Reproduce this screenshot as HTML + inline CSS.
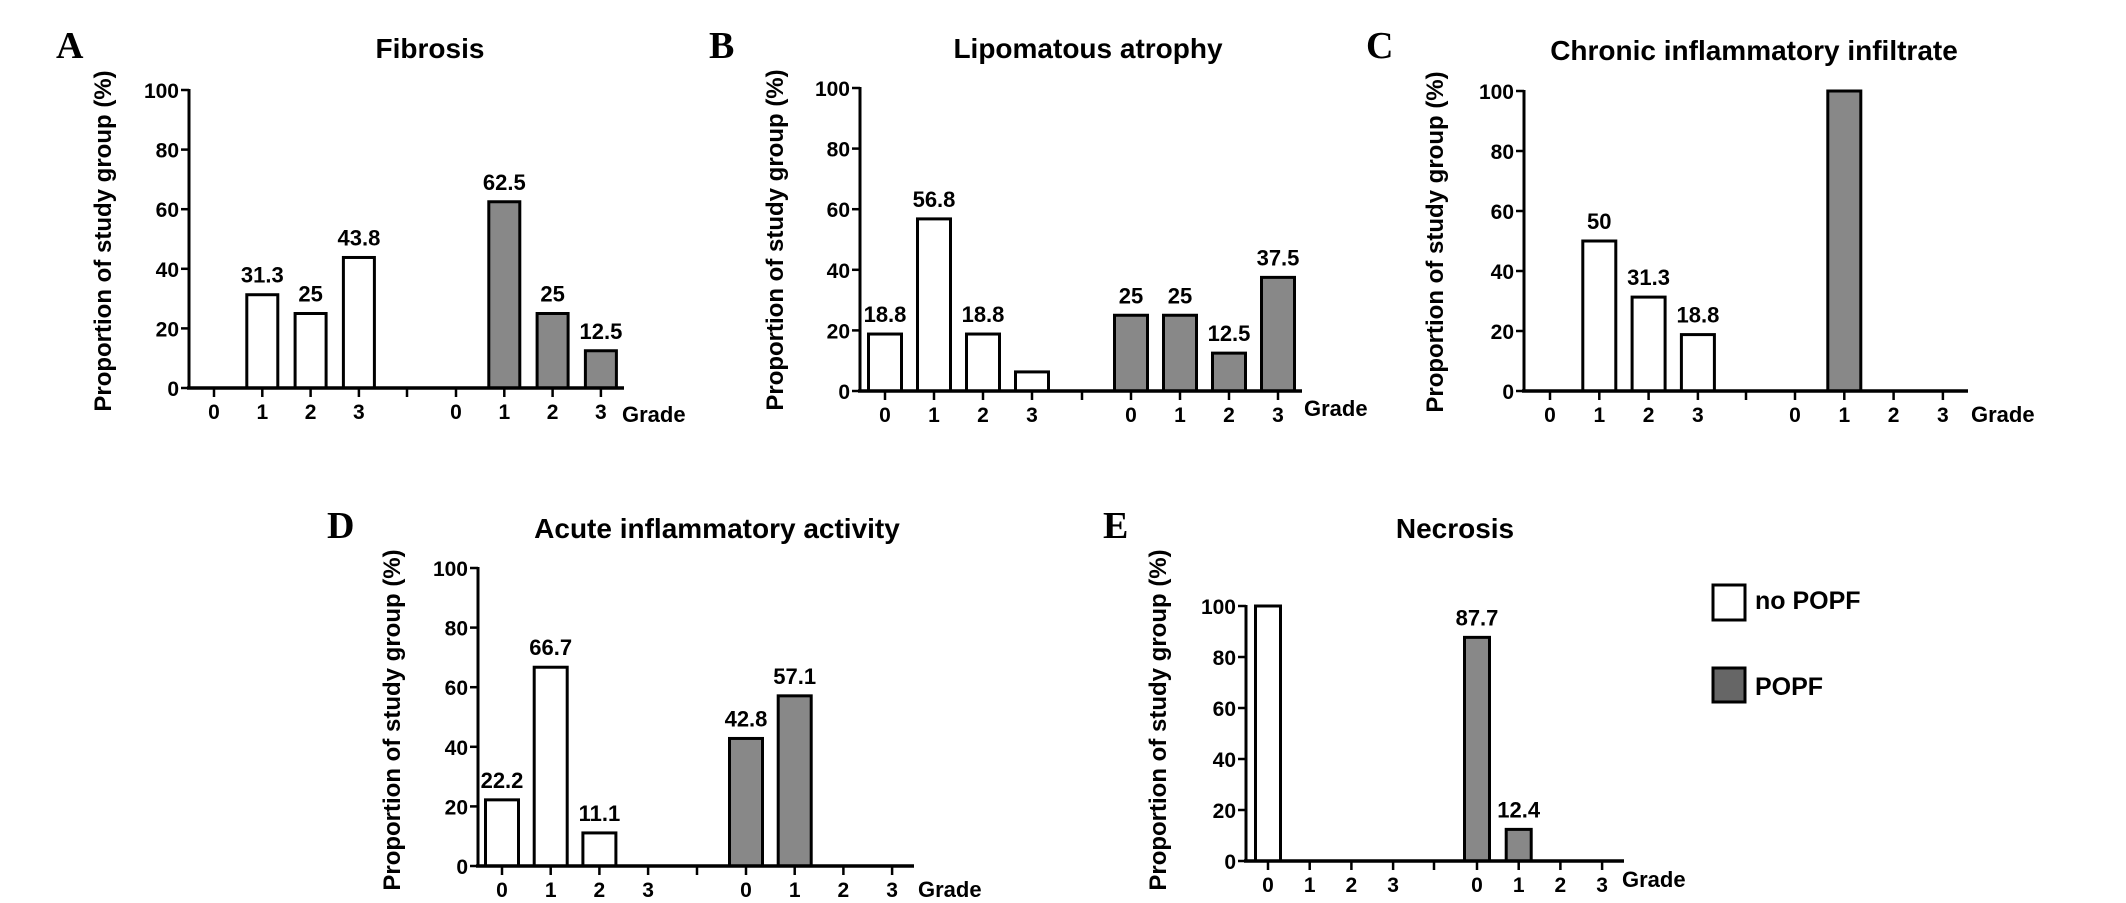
<!DOCTYPE html>
<html><head><meta charset="utf-8"><style>
html,body{margin:0;padding:0;background:#fff;}
svg{display:block;font-family:"Liberation Sans",Arial,sans-serif;}
</style></head><body>
<svg id="fig" width="2126" height="903" viewBox="0 0 2126 903" xmlns="http://www.w3.org/2000/svg"></svg>
<script>
const grades = ["0","1","2","3"];
const yTicks = [0,20,40,60,80,100];
const titles = ["Fibrosis","Lipomatous atrophy","Chronic inflammatory infiltrate","Acute inflammatory activity","Necrosis"];
const letters = ["A","B","C","D","E"];
const noPopfA = [0,31.3,25,43.8];
const popfA = [0,62.5,25,12.5];
const noPopfB = [18.8,56.8,18.8,6.3];
const popfB = [25,25,12.5,37.5];
const noPopfC = [0,50,31.3,18.8];
const popfC = [0,100,0,0];
const noPopfD = [22.2,66.7,11.1,0];
const popfD = [42.8,57.1,0,0];
const noPopfE = [100,0,0,0];
const popfE = [87.7,12.4,0,0];
const labelsNoA = [null,"31.3","25","43.8"], labelsPA = [null,"62.5","25","12.5"];
const labelsNoB = ["18.8","56.8","18.8",null], labelsPB = ["25","25","12.5","37.5"];
const labelsNoC = [null,"50","31.3","18.8"], labelsPC = [null,null,null,null];
const labelsNoD = ["22.2","66.7","11.1",null], labelsPD = ["42.8","57.1",null,null];
const labelsNoE = [null,null,null,null], labelsPE = ["87.7","12.4",null,null];

const NS="http://www.w3.org/2000/svg";
const svg=document.getElementById('fig');
function mk(tag,attrs,parent,text){const e=document.createElementNS(NS,tag);for(const k in attrs)e.setAttribute(k,attrs[k]);if(text!==undefined)e.textContent=text;(parent||svg).appendChild(e);return e;}

const layouts=[
 {ax:189,y100:90,y0:388,x0:214,step:48.3,sep:407,x0b:456,end:624,bw:31,title:[430,58],letter:[56,58],yl:[103,241],grade:[622,414]},
 {ax:860,y100:88,y0:391,x0:885,step:49,sep:1082,x0b:1131,end:1302,bw:33,title:[1088,58],letter:[709,58],yl:[775,240],grade:[1304,408]},
 {ax:1524,y100:91,y0:391,x0:1550,step:49.3,sep:1746,x0b:1795,end:1968,bw:33,title:[1754,60],letter:[1366,58],yl:[1435,242],grade:[1971,414]},
 {ax:478,y100:568,y0:866,x0:502,step:48.7,sep:697,x0b:746,end:914,bw:33,title:[717,538],letter:[327,538],yl:[392,720],grade:[918,889]},
 {ax:1246,y100:606,y0:861,x0:1268,step:41.7,sep:1434,x0b:1477,end:1624,bw:25,title:[1455,538],letter:[1103,538],yl:[1158,720],grade:[1622,879]}
];
const series=[[noPopfA,popfA,labelsNoA,labelsPA],[noPopfB,popfB,labelsNoB,labelsPB],[noPopfC,popfC,labelsNoC,labelsPC],[noPopfD,popfD,labelsNoD,labelsPD],[noPopfE,popfE,labelsNoE,labelsPE]];

layouts.forEach((L,pi)=>{
  const g=mk('g',{});
  
  
  const yScale=v=>L.y0-(v/100)*(L.y0-L.y100);
  const xScale=(grp,i)=>(grp===0?L.x0:L.x0b)+i*L.step;
  const lt=mk('text',{x:L.letter[0],y:L.letter[1],'font-family':'"Liberation Serif",serif','font-weight':'bold','font-size':38},g,letters[pi]);
  
  
  const tt=mk('text',{x:L.title[0],y:L.title[1],'text-anchor':'middle','font-weight':'bold','font-size':28},g,titles[pi]);
  
  
  const yl=mk('text',{x:0,y:0,transform:`translate(${L.yl[0]+8},${L.yl[1]}) rotate(-90)`,'text-anchor':'middle','font-weight':'bold','font-size':24},g,'Proportion of study group (%)');
  
  
  series[pi].slice(0,2).forEach((vals,grp)=>{
    vals.forEach((v,i)=>{
      if(v<=0)return;
      const cx=xScale(grp,i), y=yScale(v);
      const r=mk('rect',{x:cx-L.bw/2,y:y,width:L.bw,height:L.y0-y,fill:grp?'#888':'#fff',stroke:'#000','stroke-width':3},g);
      
      
      const lab=series[pi][2+grp][i];
      if(lab){
        const t=mk('text',{x:cx,y:y-12,'text-anchor':'middle','font-weight':'bold','font-size':22},g,lab);
        
        
      }
    });
  });
  mk('line',{x1:L.ax,y1:L.y100-1,x2:L.ax,y2:L.y0,stroke:'#000','stroke-width':3},g);
  yTicks.forEach(t=>{
    const y=yScale(t);
    mk('line',{x1:L.ax-8,y1:y,x2:L.ax,y2:y,stroke:'#000','stroke-width':2.5},g);
    const tl=mk('text',{x:L.ax-10,y:y+8,'text-anchor':'end','font-weight':'bold','font-size':21},g,String(t));
    
    
  });
  const xa=mk('line',{x1:L.ax-2,y1:L.y0,x2:L.end,y2:L.y0,stroke:'#000','stroke-width':3.5},g);
  
  
  mk('line',{x1:L.sep,y1:L.y0,x2:L.sep,y2:L.y0+9,stroke:'#000','stroke-width':2.5},g);
  [0,1].forEach(grp=>grades.forEach((gr,i)=>{
    const x=xScale(grp,i);
    mk('line',{x1:x,y1:L.y0,x2:x,y2:L.y0+9,stroke:'#000','stroke-width':2.5},g);
    const xl=mk('text',{x:x,y:L.y0+31,'text-anchor':'middle','font-weight':'bold','font-size':21},g,gr);
    
    
  }));
  const gt=mk('text',{x:L.grade[0],y:L.grade[1]+8,'font-weight':'bold','font-size':22},g,'Grade');
  
  
});
const lg=mk('g',{});


const e1=mk('rect',{x:1713,y:585,width:32,height:35,fill:'#fff',stroke:'#000','stroke-width':3},lg);


const t1=mk('text',{x:1755,y:609,'font-weight':'bold','font-size':25},lg,'no POPF');


const e2=mk('rect',{x:1713,y:668,width:32,height:34,fill:'#666',stroke:'#000','stroke-width':3},lg);


const t2=mk('text',{x:1755,y:695,'font-weight':'bold','font-size':25},lg,'POPF');


</script>
</body></html>
